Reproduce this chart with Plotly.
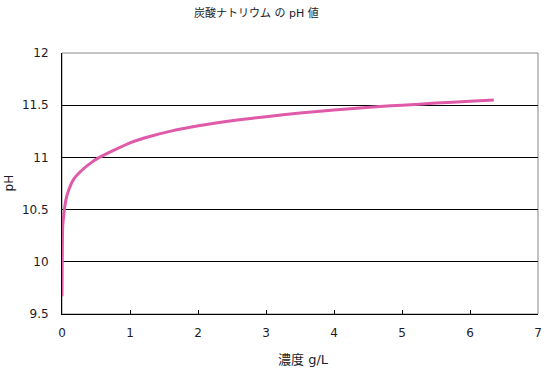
import plotly.graph_objects as go

conc = [0, 0.004, 0.01, 0.025, 0.035, 0.06, 0.1, 0.17, 0.28, 0.43, 0.55, 0.75, 1.0, 1.29,
        1.6, 2.03, 2.61, 3.0, 3.5, 4.0, 4.67, 5.0, 5.5, 6.0, 6.35]
ph = [9.67, 10.05, 10.34, 10.44, 10.5, 10.6, 10.69, 10.79, 10.87, 10.95, 11.0, 11.065, 11.14, 11.2,
      11.252, 11.305, 11.36, 11.39, 11.425, 11.455, 11.488, 11.5, 11.52, 11.537, 11.55]

title = "炭酸ナトリウム の pH 値"
xtitle = "濃度 g/L"
ytitle = "pH"

font = "DejaVu Sans, Noto Sans CJK JP"
txt = "#1c1c28"

fig = go.Figure()
fig.add_trace(go.Scatter(x=conc, y=ph, mode="lines",
                         line=dict(color="#DF5AA8", width=3, shape="spline", smoothing=0.5),
                         hoverinfo="skip", showlegend=False))

fig.update_layout(
    width=550, height=373,
    margin=dict(l=62, r=12, t=53, b=59),
    paper_bgcolor="white", plot_bgcolor="white",
    font=dict(family=font, size=12, color=txt),
    title=dict(text=title, x=0.466, xref="container", xanchor="center",
               y=0.965, yref="container", yanchor="middle",
               font=dict(family=font, size=11, color=txt)),
    showlegend=False,
    shapes=[dict(type="rect", xref="paper", yref="paper", x0=0, x1=1, y0=0, y1=1,
                 line=dict(color="#888888", width=1), layer="below")],
    annotations=[
        dict(text=xtitle, xref="paper", yref="paper", x=0.508, y=-0.175,
             xanchor="center", yanchor="middle", showarrow=False,
             font=dict(family=font, size=13, color=txt)),
        dict(text=ytitle, xref="paper", yref="paper", x=-0.112, y=0.503,
             xanchor="center", yanchor="middle", showarrow=False, textangle=-90,
             font=dict(family=font, size=12, color=txt)),
    ],
)
fig.update_xaxes(range=[0, 7], dtick=1, showgrid=False, zeroline=False,
                 showline=True, linecolor="black", linewidth=1,
                 ticks="inside", ticklen=4, tickcolor="black", automargin=False,
                 ticklabelstandoff=8, tickfont=dict(size=12))
fig.update_yaxes(range=[9.5, 12], dtick=0.5, showgrid=True, gridcolor="black", gridwidth=1,
                 zeroline=False, showline=True, linecolor="black", linewidth=1,
                 ticks="", automargin=False, ticklabelstandoff=10, tickfont=dict(size=12))

fig.write_html("out.html", config={"displayModeBar": False},
               post_script="document.body.style.margin='0';")
